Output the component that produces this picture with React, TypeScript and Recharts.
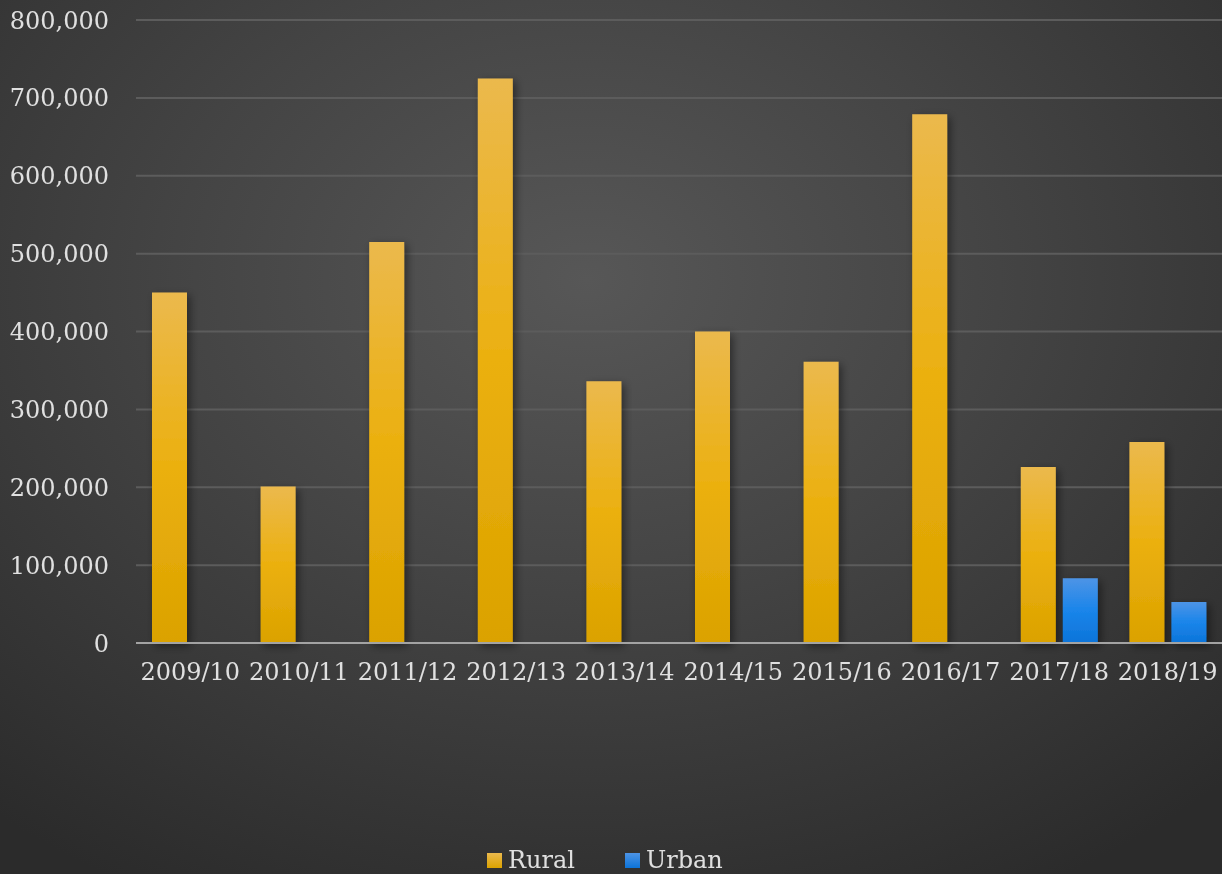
import React from 'react'
import { BarChart, Bar, XAxis, YAxis, CartesianGrid } from 'recharts'

const years = ['2009/10', '2010/11', '2011/12', '2012/13', '2013/14', '2014/15', '2015/16', '2016/17', '2017/18', '2018/19']
const rural = [450000, 201000, 515000, 725000, 336000, 400000, 361000, 679000, 226000, 258000]
const urban = [null, null, null, null, null, null, null, null, 83000, 52500]
const yTicks = [0, 100000, 200000, 300000, 400000, 500000, 600000, 700000, 800000]

const font = '"DejaVu Serif", serif'

const formatNum = (v: number) => v.toLocaleString('en-US')

export default function App() {
  const chartData = years.map((name, i) => ({
    name,
    Rural: rural[i],
    Urban: urban[i]
  }))

  return (
    <div
      style={{
        position: 'fixed',
        left: 0,
        top: 0,
        width: 1222,
        height: 874,
        overflow: 'hidden',
        background: 'radial-gradient(ellipse 75% 80% at 48% 32%, #575757 0%, #444 45%, #2b2b2b 100%)',
        fontFamily: font
      }}
    >
      <BarChart
        width={1222}
        height={874}
        data={chartData}
        margin={{ top: 20, right: 0, bottom: 0, left: 0 }}
        barCategoryGap={16}
        barGap={7}
      >
        <defs>
          <linearGradient id="gold" x1="0" y1="0" x2="0" y2="1">
            <stop offset="0%" stopColor="#ebb94d" />
            <stop offset="50%" stopColor="#ebb00f" />
            <stop offset="100%" stopColor="#dba200" />
          </linearGradient>
          <linearGradient id="blue" x1="0" y1="0" x2="0" y2="1">
            <stop offset="0%" stopColor="#4d94e6" />
            <stop offset="50%" stopColor="#1a85ea" />
            <stop offset="100%" stopColor="#0c74d9" />
          </linearGradient>
          <filter id="shadow" x="-30%" y="-10%" width="160%" height="130%">
            <feDropShadow dx="3" dy="3" stdDeviation="4" floodColor="#000" floodOpacity="0.45" />
          </filter>
        </defs>
        <CartesianGrid vertical={false} stroke="#5c5c5c" strokeWidth={2} />
        <XAxis
          dataKey="name"
          height={231}
          interval={0}
          tickLine={false}
          tickSize={0}
          tickMargin={20}
          axisLine={{ stroke: '#a3a3a3', strokeWidth: 2 }}
          tick={{ fill: '#e0e0e0', fontSize: 24, fontFamily: font }}
        />
        <YAxis
          width={136}
          domain={[0, 800000]}
          ticks={yTicks}
          tickFormatter={formatNum}
          axisLine={false}
          tickLine={false}
          tickSize={0}
          tickMargin={27}
          tick={{ fill: '#e0e0e0', fontSize: 24, fontFamily: font }}
        />
        <Bar dataKey="Rural" fill="url(#gold)" barSize={35} isAnimationActive={false} style={{ filter: 'url(#shadow)' }} />
        <Bar dataKey="Urban" fill="url(#blue)" barSize={35} isAnimationActive={false} style={{ filter: 'url(#shadow)' }} />
      </BarChart>
      <div
        style={{
          position: 'absolute',
          top: 846,
          left: 487,
          display: 'flex',
          alignItems: 'center',
          color: '#e0e0e0',
          fontSize: 24,
          fontFamily: font,
          whiteSpace: 'nowrap'
        }}
      >
        <span style={{ width: 15, height: 15, background: 'linear-gradient(#ebb94d, #dba200)', display: 'inline-block', marginRight: 6 }} />
        <span style={{ marginRight: 50 }}>Rural</span>
        <span style={{ width: 15, height: 15, background: 'linear-gradient(#4d94e6, #0c74d9)', display: 'inline-block', marginRight: 6 }} />
        <span>Urban</span>
      </div>
    </div>
  )
}
